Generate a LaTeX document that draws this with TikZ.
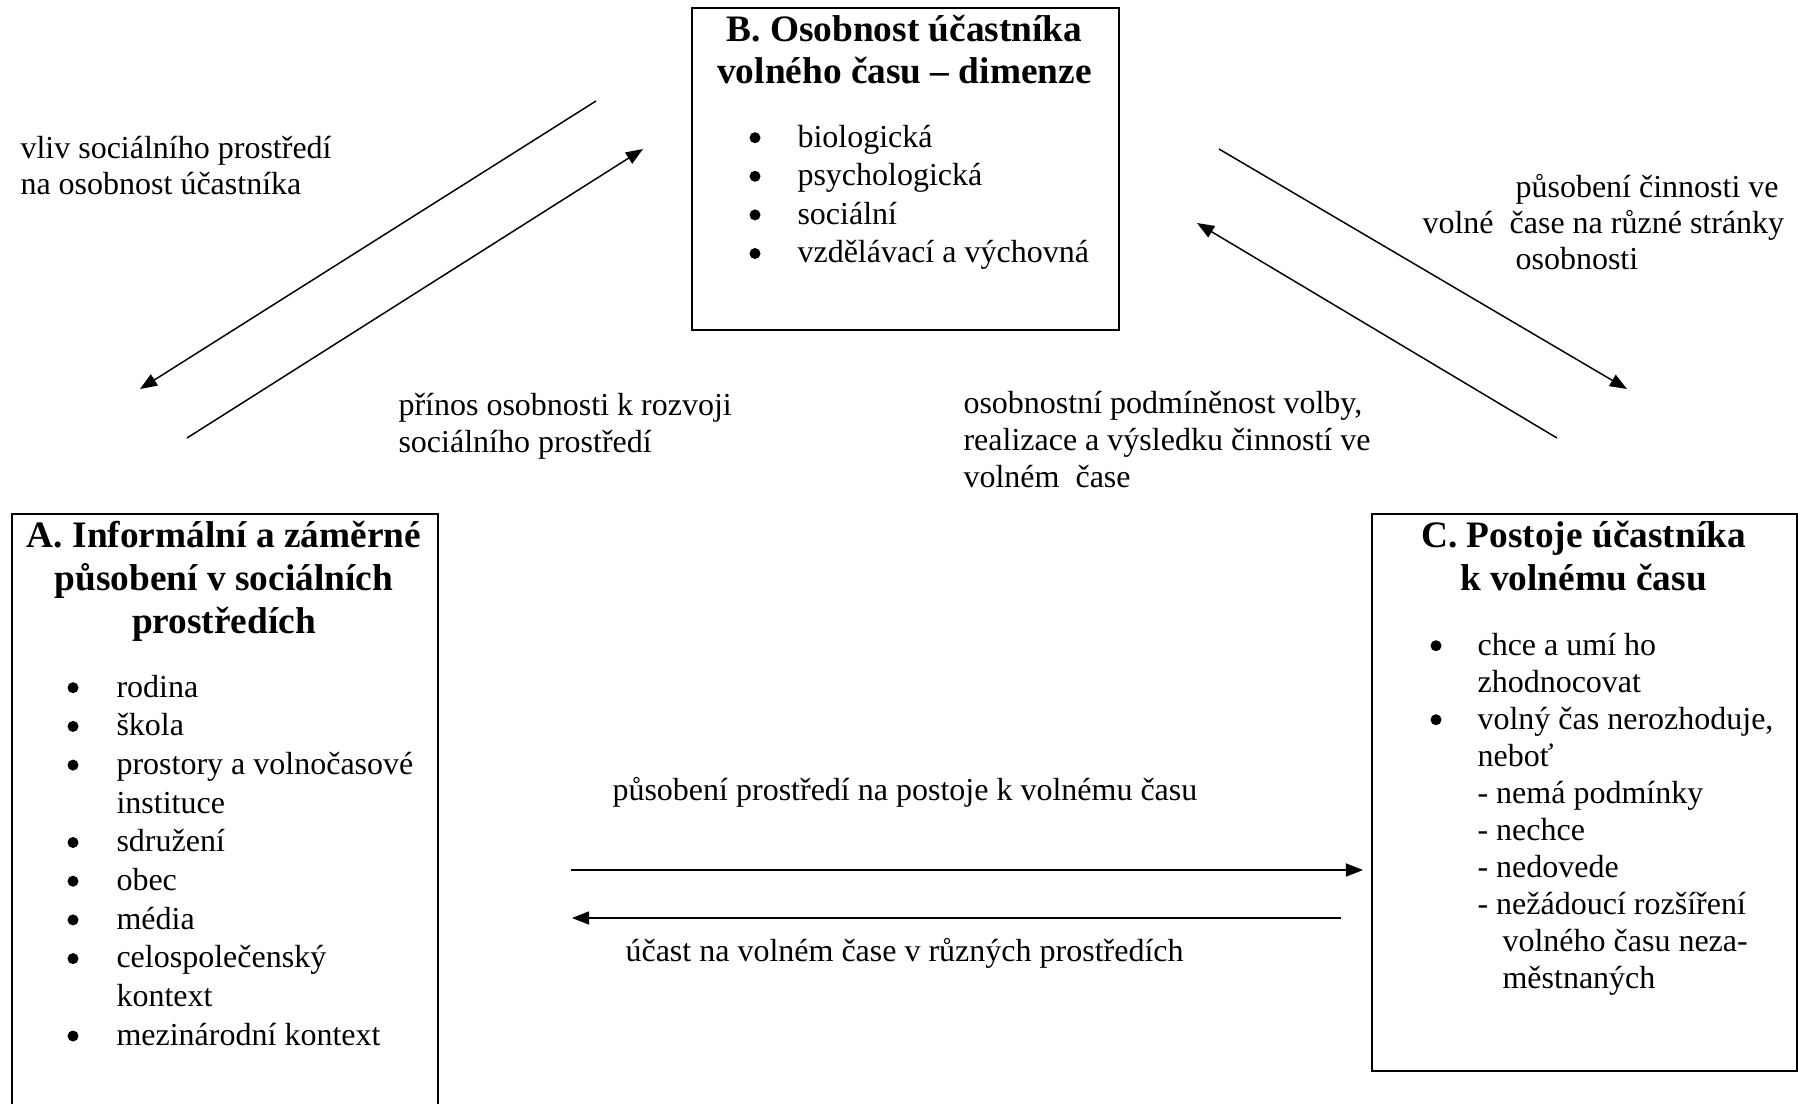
\documentclass[tikz,border=0pt]{standalone}
\usepackage{fontspec}
\setmainfont{Liberation Serif}
\usetikzlibrary{arrows.meta}
\begin{document}
\begin{tikzpicture}[x=0.375pt,y=-0.375pt,
  box/.style={draw, line width=0.75pt, inner sep=0pt, anchor=north west},
  lab/.style={anchor=base west, inner sep=0pt, font=\fontsize{12pt}{14pt}\selectfont},
  ttl/.style={anchor=base, inner sep=0pt, font=\fontsize{14pt}{16pt}\selectfont\bfseries},
  bul/.style={circle, fill=black, inner sep=0pt, minimum size={11*0.375pt}, yshift={9.3*0.375pt}},
  conn/.style={line width=0.55pt, -{Triangle[length=6.4pt,width=4.9pt]}}]
\useasboundingbox (0,0) rectangle (1798,1103);

% boxes
\node[box, minimum width={427*0.375pt}, minimum height={322*0.375pt}] (B) at (691,7) {};
\node[box, minimum width={426*0.375pt}, minimum height={620*0.375pt}] (A) at (11,513) {};
\node[box, minimum width={425*0.375pt}, minimum height={557*0.375pt}] (C) at (1371,513) {};

% box B content
\node[ttl] (Bt1) at (904.5,42) {B. Osobnost účastníka};
\node[ttl] (Bt2) at (904.5,83) {volného času – dimenze};
\node[bul] (Bb1) at (755,147) {};   \node[lab] (Bl1) at (797,147) {biologická};
\node[bul] (Bb2) at (755,185.6) {}; \node[lab] (Bl2) at (797,185.6) {psychologická};
\node[bul] (Bb3) at (755,224.2) {}; \node[lab] (Bl3) at (797,224.2) {sociální};
\node[bul] (Bb4) at (755,262.8) {}; \node[lab] (Bl4) at (797,262.8) {vzdělávací a výchovná};

% box A content
\node[ttl] (At1) at (224,547) {A. Informální a záměrné};
\node[ttl] (At2) at (224,590) {působení v sociálních};
\node[ttl] (At3) at (224,633) {prostředích};
\node[bul] (Ab1) at (73,697.0) {}; \node[lab] (Al1) at (116,697.0) {rodina};
\node[bul] (Ab2) at (73,735.7) {}; \node[lab] (Al2) at (116,735.7) {škola};
\node[bul] (Ab3) at (73,774.4) {}; \node[lab] (Al3) at (116,774.4) {prostory a volnočasové};
                                  \node[lab] (Al4) at (116,813.1) {instituce};
\node[bul] (Ab5) at (73,851.8) {}; \node[lab] (Al5) at (116,851.8) {sdružení};
\node[bul] (Ab6) at (73,890.5) {}; \node[lab] (Al6) at (116,890.5) {obec};
\node[bul] (Ab7) at (73,929.2) {}; \node[lab] (Al7) at (116,929.2) {média};
\node[bul] (Ab8) at (73,967.9) {}; \node[lab] (Al8) at (116,967.9) {celospolečenský};
                                  \node[lab] (Al9) at (116,1006.6) {kontext};
\node[bul] (Ab10) at (73,1045.3) {}; \node[lab] (Al10) at (116,1045.3) {mezinárodní kontext};

% box C content
\node[ttl] (Ct1) at (1583.5,547) {C. Postoje účastníka};
\node[ttl] (Ct2) at (1583.5,590) {k volnému času};
\node[bul] (Cb1) at (1436,655) {}; \node[lab] (Cl1) at (1477,655) {chce a umí ho};
                                  \node[lab] (Cl2) at (1477,692) {zhodnocovat};
\node[bul] (Cb3) at (1436,729) {}; \node[lab] (Cl3) at (1477,729) {volný čas nerozhoduje,};
                                  \node[lab] (Cl4) at (1477,766) {neboť};
\node[lab] (Cl5) at (1477,803) {- nemá podmínky};
\node[lab] (Cl6) at (1477,840) {- nechce};
\node[lab] (Cl7) at (1477,877) {- nedovede};
\node[lab] (Cl8) at (1477,914) {- nežádoucí rozšíření};
\node[lab] (Cl9) at (1502,951) {volného času neza-};
\node[lab] (Cl10) at (1502,988) {městnaných};

% labels
\node[lab] (L1a) at (20,158) {vliv sociálního prostředí};
\node[lab] (L1b) at (20,194) {na osobnost účastníka};
\node[lab] (L2a) at (398,415) {přínos osobnosti k rozvoji};
\node[lab] (L2b) at (398,452) {sociálního prostředí};
\node[lab] (L3a) at (963,413) {osobnostní podmíněnost volby,};
\node[lab] (L3b) at (963,450) {realizace a výsledku činností ve};
\node[lab] (L3c) at (963,487) {volném\ \ čase};
\node[lab] (L4a) at (1515,197) {působení činnosti ve};
\node[lab] (L4b) at (1422,233) {volné\ \ čase na různé stránky};
\node[lab] (L4c) at (1515,269) {osobnosti};
\node[lab] (L5) at (612,800) {působení prostředí na postoje k volnému času};
\node[lab] (L6) at (625,961) {účast na volném čase v různých prostředích};

% connector end points
\coordinate (a1s) at (596,101);  \coordinate (a1e) at (140,389);
\coordinate (a2s) at (187,438);  \coordinate (a2e) at (643,149);
\coordinate (a3s) at (1219,149); \coordinate (a3e) at (1627,389);
\coordinate (a4s) at (1557,438); \coordinate (a4e) at (1197,223);
\coordinate (a5s) at (571,870);  \coordinate (a5e) at (1363,870);
\coordinate (a6s) at (1341,918); \coordinate (a6e) at (572,918);

\draw[conn] (a1s) -- (a1e);
\draw[conn] (a2s) -- (a2e);
\draw[conn] (a3s) -- (a3e);
\draw[conn] (a4s) -- (a4e);
\draw[conn] (a5s) -- (a5e);
\draw[conn] (a6s) -- (a6e);
\end{tikzpicture}
\end{document}
